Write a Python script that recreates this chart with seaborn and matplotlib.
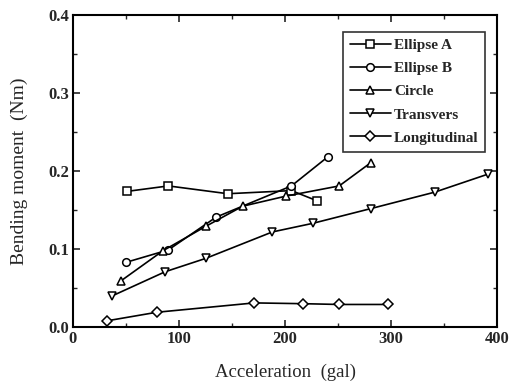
import pandas as pd
import seaborn as sns
import matplotlib.pyplot as plt

# values
ellA_x = [51, 90, 146, 206, 230]
ellA_y = [0.174, 0.181, 0.171, 0.175, 0.162]
ellB_x = [50, 90, 135, 206, 240]
ellB_y = [0.083, 0.099, 0.141, 0.181, 0.218]
circ_x = [45, 85, 125, 160, 201, 251, 281]
circ_y = [0.059, 0.098, 0.129, 0.155, 0.168, 0.181, 0.211]
trans_x = [37, 87, 125, 188, 226, 281, 341, 391]
trans_y = [0.040, 0.071, 0.088, 0.122, 0.133, 0.152, 0.173, 0.196]
long_x = [32, 79, 171, 217, 251, 297]
long_y = [0.008, 0.019, 0.031, 0.030, 0.029, 0.029]

series = [
    ('Ellipse A', ellA_x, ellA_y, 's'),
    ('Ellipse B', ellB_x, ellB_y, 'o'),
    ('Circle', circ_x, circ_y, '^'),
    ('Transvers', trans_x, trans_y, 'v'),
    ('Longitudinal', long_x, long_y, 'D'),
]

sns.set_style('ticks')
plt.rcParams['font.family'] = ['Liberation Serif', 'DejaVu Serif']

fig = plt.figure(figsize=(5.1, 3.88), dpi=100)
ax = fig.add_axes([0.143, 0.157, 0.832, 0.804])

for name, xs, ys, m in series:
    df = pd.DataFrame({'x': xs, 'y': ys})
    ms = 5 if m == 'D' else 5.5
    sns.lineplot(data=df, x='x', y='y', ax=ax, color='black', lw=1.2,
                 marker=m, markersize=ms, markerfacecolor='white',
                 markeredgecolor='black', markeredgewidth=1.1, label=name)

ax.set_xlim(0, 400)
ax.set_ylim(0, 0.4)
ax.set_xticks([0, 100, 200, 300, 400])
ax.set_yticks([0.0, 0.1, 0.2, 0.3, 0.4])
ax.set_yticklabels(['0.0', '0.1', '0.2', '0.3', '0.4'])
ax.set_xticks([50, 150, 250, 350], minor=True)
ax.set_yticks([0.05, 0.15, 0.25, 0.35], minor=True)
ax.tick_params(which='both', direction='in', top=True, right=True)
ax.tick_params(which='major', length=5, width=1.2, labelsize=12, pad=3)
ax.tick_params(which='minor', length=3, width=1.0)
for lab in ax.get_xticklabels() + ax.get_yticklabels():
    lab.set_fontweight('bold')
for sp in ax.spines.values():
    sp.set_linewidth(1.5)
    sp.set_color('black')

ax.set_xlabel('Acceleration  (gal)', fontsize=13.5, labelpad=12)
ax.set_ylabel('Bending moment  (Nm)', fontsize=14, labelpad=14)

leg = ax.legend(loc='upper right', bbox_to_anchor=(0.99, 0.972), fontsize=11,
                frameon=True, fancybox=False, edgecolor='black',
                handlelength=2.7, handletextpad=0.2, labelspacing=0.62,
                borderpad=0.45)
leg.get_frame().set_linewidth(1.2)
for t in leg.get_texts():
    t.set_fontweight('bold')

fig.savefig('out.png', dpi=100)
